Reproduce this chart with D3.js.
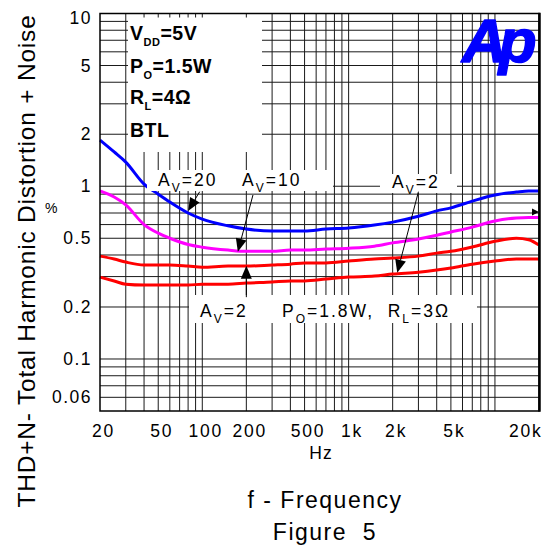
<!DOCTYPE html>
<html><head><meta charset="utf-8">
<script src="https://cdn.jsdelivr.net/npm/d3@7"></script>
<style>
html,body{margin:0;padding:0;background:#fff;}
svg{display:block;font-family:"Liberation Sans",Arial,sans-serif;}
</style></head><body>
<svg id="c" width="548" height="548"></svg>
<script>
// ---- data ----
const freqs = [20,25,30,40,50,60,80,100,150,200,300,400,500,700,1000,1500,2000,3000,4000,5000,7000,10000,14000,17000,20000];
const av20  = [1.85,1.58,1.38,1.03,0.90,0.81,0.70,0.645,0.59,0.565,0.55,0.55,0.55,0.565,0.573,0.596,0.62,0.67,0.72,0.75,0.82,0.89,0.925,0.94,0.94];
const av10  = [0.94,0.866,0.78,0.60,0.535,0.50,0.46,0.444,0.427,0.42,0.42,0.427,0.427,0.433,0.438,0.45,0.47,0.495,0.52,0.543,0.58,0.63,0.655,0.66,0.66];
const av2   = [0.394,0.379,0.364,0.35,0.35,0.35,0.345,0.34,0.345,0.345,0.35,0.354,0.36,0.36,0.369,0.379,0.384,0.394,0.41,0.42,0.445,0.48,0.50,0.49,0.457];
const av2hp = [0.298,0.283,0.271,0.268,0.268,0.268,0.268,0.271,0.271,0.275,0.279,0.283,0.283,0.29,0.298,0.302,0.31,0.318,0.327,0.336,0.354,0.369,0.379,0.379,0.379];
const seriesNames = ["AV=20","AV=10","AV=2","AV=2 PO=1.8W RL=3Ω"];
const seriesColors = ["#0000ff","#ff00ff","#ff0000","#ff0000"];
const xTickValues = [20,50,100,200,500,1000,2000,5000,20000];
const xTickLabels = ["20","50","100","200","500","1k","2k","5k","20k"];
const yTickValues = [10,5,2,1,0.5,0.2,0.1,0.06];
const yTickLabels = ["10","5","2","1","0.5","0.2","0.1","0.06"];
const xGridValues = [30,40,50,60,70,80,90,100,200,300,400,500,600,700,800,900,1000,2000,3000,4000,5000,6000,7000,8000,9000,10000];
const yGridValues = [0.06,0.07,0.08,0.09,0.1,0.2,0.3,0.4,0.5,0.6,0.7,0.8,0.9,1,2,3,4,5,6,7,8,9];
// arrows: [tailFreq, tailVal, tipFreq, tipVal, big]
const arrowDefs = [
  [96, 0.93, 80, 0.72, 1],
  [222, 0.89, 175, 0.418, 1],
  [3000, 0.93, 2150, 0.316, 1],
  [200, 0.228, 200, 0.347, 1],
  [18900, 0.71, 20000, 0.71, 0]
];

// ---- layout ----
const svg = d3.select("#c");
const L = 100, R = 539, T = 13.5, B = 411;
const x = d3.scaleLog().domain([20,20000]).range([L,R]);
const y = d3.scaleLog().domain([0.05,10]).range([B,T]);

// grid
const grid = svg.append("g").attr("stroke","#1a1a1a").attr("stroke-width",1);
grid.selectAll("line.v").data(xGridValues).join("line").attr("class","v")
  .attr("x1",d=>x(d)).attr("x2",d=>x(d)).attr("y1",T).attr("y2",B);
grid.selectAll("line.h").data(yGridValues).join("line").attr("class","h")
  .attr("x1",L).attr("x2",R).attr("y1",d=>y(d)).attr("y2",d=>y(d));

// curves
const series = [av20, av10, av2, av2hp];
const line = d3.line().x(d=>x(d[0])).y(d=>y(d[1])).curve(d3.curveMonotoneX);
svg.append("g").selectAll("path").data(series).join("path")
  .attr("d",s=>line(freqs.map((f,i)=>[f,s[i]])))
  .attr("fill","none").attr("stroke",(s,i)=>seriesColors[i]).attr("stroke-width",3)
  .attr("stroke-linejoin","round");

// frame
svg.append("rect").attr("x",L).attr("y",T).attr("width",R-L).attr("height",B-T)
  .attr("fill","none").attr("stroke","#000").attr("stroke-width",1.5);
svg.append("line").attr("x1",R+0.5).attr("x2",R+0.5).attr("y1",T-0.7).attr("y2",B+0.7)
  .attr("stroke","#000").attr("stroke-width",2.5);

// white label boxes
const boxes = [[128,17.5,262,152],[147,170,333,191],[380,174,457,193],[189,295,477,323]];
svg.append("g").selectAll("rect").data(boxes).join("rect")
  .attr("x",d=>d[0]).attr("y",d=>d[1]).attr("width",d=>d[2]-d[0]).attr("height",d=>d[3]-d[1])
  .attr("fill","#fff");

// axes
const yAxis = d3.axisLeft(y).tickValues(yTickValues).tickSize(0).tickPadding(8)
  .tickFormat((d,i)=>yTickLabels[i]);
const gy = svg.append("g").attr("transform",`translate(${L},0)`).call(yAxis);
gy.select(".domain").remove();
gy.selectAll("text").attr("font-size",17.5).attr("font-family","Liberation Sans, Arial, sans-serif")
  .attr("fill","#000").style("letter-spacing","1.5px");
gy.selectAll(".tick").filter(d=>d===10).select("text").attr("dy","0.55em");

const xAxis = d3.axisBottom(x).tickValues(xTickValues).tickSize(0).tickPadding(14)
  .tickFormat((d,i)=>xTickLabels[i]);
const gx = svg.append("g").attr("transform",`translate(0,${B})`).call(xAxis);
gx.select(".domain").remove();
gx.selectAll("text").attr("font-size",17.5).attr("font-family","Liberation Sans, Arial, sans-serif")
  .attr("fill","#000").style("letter-spacing","1.8px").attr("dx",3);
gx.selectAll(".tick").filter(d=>d===20000).select("text").attr("text-anchor","end").attr("dx",3);

svg.append("text").attr("x",321).attr("y",459).attr("text-anchor","middle")
  .attr("font-size",17.5).style("letter-spacing","1px").text("Hz");
svg.append("text").attr("x",45).attr("y",213).attr("font-size",14).text("%");

// titles
svg.append("text").attr("transform","translate(35,261) rotate(-90)").attr("text-anchor","middle")
  .attr("font-size",24.5).style("letter-spacing","0.8px").text("THD+N- Total Harmonic Distortion + Noise");
svg.append("text").attr("x",325).attr("y",508).attr("text-anchor","middle")
  .attr("font-size",23).style("letter-spacing","1.5px").text("f - Frequency");
svg.append("text").attr("x",325).attr("y",540).attr("text-anchor","middle")
  .attr("font-size",23).style("letter-spacing","1.5px").style("white-space","pre").text("Figure  5");

// subscript helper
function subText(g, px, py, parts, size, subSize, bold, ls){
  const t = g.append("text").attr("x",px).attr("y",py).attr("font-size",size)
    .attr("font-weight",bold?"bold":"normal").style("letter-spacing",ls+"px").style("white-space","pre");
  let down = 0;
  parts.forEach(p=>{
    const isSub = p[1];
    const sh = Math.round(size*0.33);
    const ts = t.append("tspan").text(p[0]);
    if(isSub && !down){ ts.attr("dy",sh).attr("font-size",subSize); down = sh; }
    else if(isSub){ ts.attr("font-size",subSize); }
    else if(down){ ts.attr("dy",-down); down = 0; }
  });
  return t;
}
const tg = svg.append("g");
subText(tg,130,40,[["V",0],["DD",1],["=5V",0]],19.5,11,true,0.5);
subText(tg,130,73,[["P",0],["O",1],["=1.5W",0]],19.5,11,true,0.5);
subText(tg,130,104,[["R",0],["L",1],["=4Ω",0]],19.5,11,true,0.5);
subText(tg,130,137,[["BTL",0]],19.5,11,true,0.5);

subText(tg,158,186,[["A",0],["V",1],["=20",0]],17.5,12,false,2);
subText(tg,242,186,[["A",0],["V",1],["=10",0]],17.5,12,false,2);
subText(tg,392,188,[["A",0],["V",1],["=2",0]],17.5,12,false,2);
subText(tg,200,317,[["A",0],["V",1],["=2",0]],17.5,12,false,2);
subText(tg,282,317,[["P",0],["O",1],["=1.8W,  R",0],["L",1],["=3Ω",0]],17.5,12,false,2);

// arrows
const ag = svg.append("g");
arrowDefs.forEach(a=>{
  const x0=x(a[0]), y0=y(a[1]), x1=x(a[2]), y1=y(a[3]);
  const len = a[4]?13:7, hw = a[4]?5.5:3.5;
  const dx=x1-x0, dy=y1-y0, d=Math.hypot(dx,dy), ux=dx/d, uy=dy/d;
  const bx=x1-ux*len, by=y1-uy*len;
  if(a[4]) ag.append("line").attr("x1",x0).attr("y1",y0).attr("x2",bx).attr("y2",by)
    .attr("stroke","#000").attr("stroke-width",1);
  ag.append("path").attr("d",`M${x1},${y1}L${bx-uy*hw},${by+ux*hw}L${bx+uy*hw},${by-ux*hw}Z`).attr("fill","#000");
});

// logo
svg.append("text").attr("x",462).attr("y",62).attr("font-size",62).attr("font-weight","bold")
  .attr("font-style","italic").style("letter-spacing","-8px").attr("fill","#0000ff")
  .attr("stroke","#0000ff").attr("stroke-width",1.5).attr("stroke-linejoin","round")
  .attr("font-family","Liberation Sans, Arial, sans-serif").text("Ap");
</script>
</body></html>
